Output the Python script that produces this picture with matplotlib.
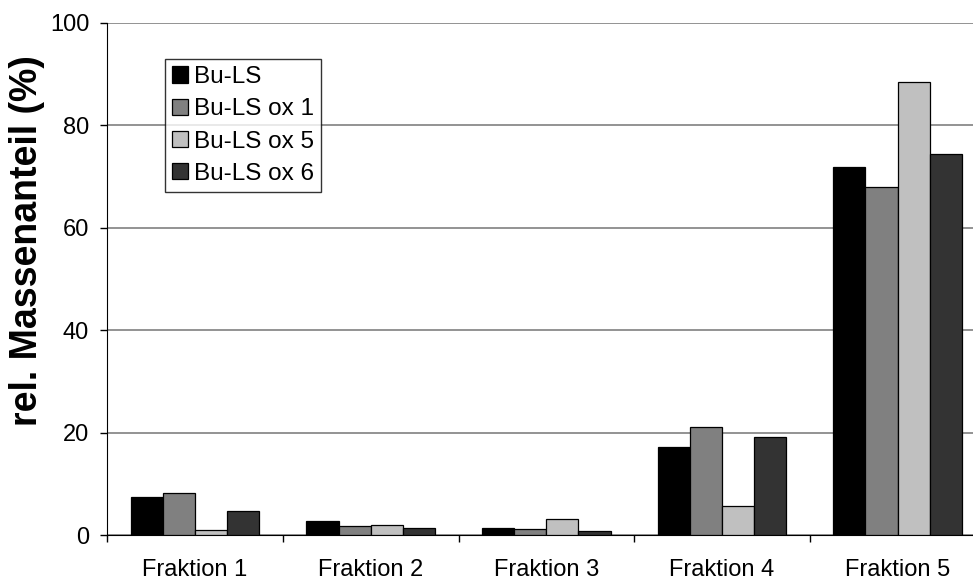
import matplotlib
matplotlib.use("Agg")
import matplotlib.pyplot as plt
import numpy as np

plt.rcParams['font.family'] = ['Liberation Sans', 'DejaVu Sans']

categories = ["Fraktion 1", "Fraktion 2", "Fraktion 3", "Fraktion 4", "Fraktion 5"]
series_names = ["Bu-LS", "Bu-LS ox 1", "Bu-LS ox 5", "Bu-LS ox 6"]
bu_ls = [7.4, 2.7, 1.4, 17.15, 71.9]
bu_ls_ox1 = [8.2, 1.75, 1.3, 21.05, 68.0]
bu_ls_ox5 = [1.1, 1.95, 3.1, 5.8, 88.5]
bu_ls_ox6 = [4.7, 1.4, 0.8, 19.2, 74.3]
colors = ["#000000", "#808080", "#c0c0c0", "#333333"]
yticks = [0, 20, 40, 60, 80, 100]

W, H = 973, 581
fig = plt.figure(figsize=(W/100, H/100), dpi=100)
ax = fig.add_axes([107.3/W, (H-535.3)/H, (985.3-107.3)/W, (535.3-22.7)/H])

x = np.arange(len(categories))
bw = 0.733 / 4
for i, (vals, name) in enumerate(zip([bu_ls, bu_ls_ox1, bu_ls_ox5, bu_ls_ox6], series_names)):
    ax.bar(x + (i - 1.5) * bw, vals, width=bw, color=colors[i], edgecolor="black",
           linewidth=0.9, label=name, zorder=3)

ax.set_xlim(-0.5, len(categories) - 0.5)
ax.set_ylim(0, 100)
ax.set_yticks(yticks)
ax.set_yticklabels([str(t) for t in yticks], fontsize=17)
ax.yaxis.grid(True, color="#808080", linewidth=1.2, zorder=0)
ax.set_axisbelow(True)

ax.set_xticks(x)
ax.set_xticklabels(categories, fontsize=17)
ax.set_xticks(np.arange(-0.5, len(categories), 1), minor=True)
ax.tick_params(axis="x", which="major", length=0, pad=17)
ax.tick_params(axis="x", which="minor", length=5, width=1, color="black")
ax.tick_params(axis="y", length=5, width=1, pad=8)

for s in ["top", "right"]:
    ax.spines[s].set_visible(False)
ax.spines["left"].set_color("black")
ax.spines["bottom"].set_color("black")

fig.text(27/W, 1 - 240.8/H, "rel. Massenanteil (%)", rotation=90, fontsize=27,
         fontweight="bold", ha="center", va="center")

leg = ax.legend(loc="upper left", bbox_to_anchor=((165.3-107.3)/878, (535.3-59.3)/512.6),
                fontsize=17.5, frameon=True, fancybox=False, edgecolor="black",
                handlelength=0.66, handleheight=0.66, handletextpad=0.25,
                borderpad=0.28, labelspacing=0.42, borderaxespad=0)
leg.get_frame().set_linewidth(1.0)
leg.set_zorder(5)

fig.savefig("out.png", dpi=100)
